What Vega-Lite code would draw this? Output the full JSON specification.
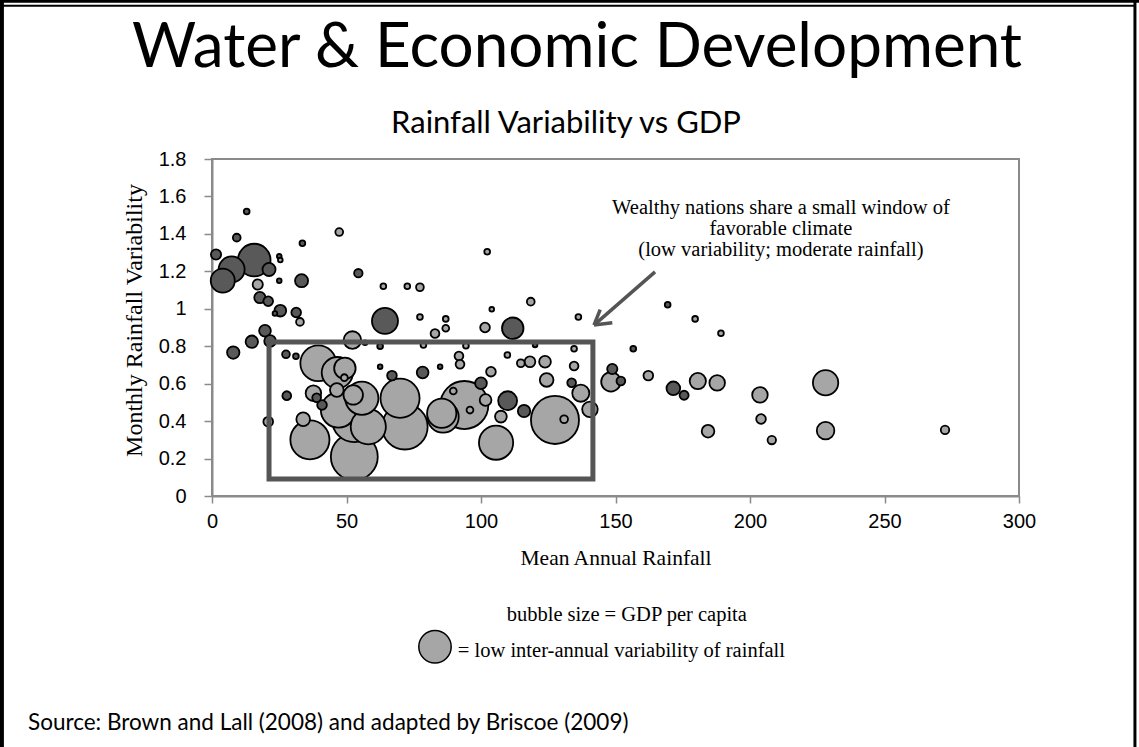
{
  "$schema": "https://vega.github.io/schema/vega-lite/v6.json",
  "width": 807,
  "height": 337,
  "autosize": {"type": "none"},
  "padding": {"left": 212, "top": 159, "right": 120, "bottom": 251},
  "background": "white",
  "config": {
    "view": {"stroke": "#8a8a8a", "strokeWidth": 2},
    "axis": {
      "grid": false,
      "domainColor": "#8a8a8a",
      "domainWidth": 2,
      "tickColor": "#8a8a8a",
      "tickWidth": 1.5,
      "labelFont": "Liberation Sans",
      "labelFontSize": 20,
      "labelColor": "#000000",
      "labelOverlap": false,
      "labelFlush": false,
      "titleFont": "Liberation Serif",
      "titleFontWeight": "normal",
      "titleColor": "#000000"
    }
  },
  "layer": [
    {
      "data": {
        "values": [
          {"rainfall": 12.9, "variability": 1.52, "gdp": 0.6, "g": "high"},
          {"rainfall": 9.2, "variability": 1.38, "gdp": 1.1, "g": "high"},
          {"rainfall": 47.3, "variability": 1.41, "gdp": 1.1, "g": "low"},
          {"rainfall": 1.5, "variability": 1.29, "gdp": 1.9, "g": "high"},
          {"rainfall": 33.6, "variability": 1.35, "gdp": 0.6, "g": "high"},
          {"rainfall": 15.7, "variability": 1.26, "gdp": 19.4, "g": "high"},
          {"rainfall": 7.3, "variability": 1.21, "gdp": 12.3, "g": "high"},
          {"rainfall": 4.0, "variability": 1.15, "gdp": 10.5, "g": "high"},
          {"rainfall": 21.2, "variability": 1.21, "gdp": 3.1, "g": "high"},
          {"rainfall": 25.0, "variability": 1.28, "gdp": 0.4, "g": "high"},
          {"rainfall": 25.4, "variability": 1.26, "gdp": 0.4, "g": "low"},
          {"rainfall": 25.0, "variability": 1.15, "gdp": 0.4, "g": "high"},
          {"rainfall": 33.3, "variability": 1.15, "gdp": 3.1, "g": "high"},
          {"rainfall": 17.0, "variability": 1.13, "gdp": 1.9, "g": "low"},
          {"rainfall": 54.4, "variability": 1.19, "gdp": 1.3, "g": "high"},
          {"rainfall": 63.7, "variability": 1.12, "gdp": 0.6, "g": "low"},
          {"rainfall": 72.6, "variability": 1.12, "gdp": 0.6, "g": "low"},
          {"rainfall": 77.3, "variability": 1.115, "gdp": 1.1, "g": "low"},
          {"rainfall": 17.8, "variability": 1.06, "gdp": 2.3, "g": "high"},
          {"rainfall": 20.9, "variability": 1.04, "gdp": 1.7, "g": "high"},
          {"rainfall": 25.4, "variability": 0.99, "gdp": 2.5, "g": "high"},
          {"rainfall": 23.4, "variability": 0.975, "gdp": 0.4, "g": "high"},
          {"rainfall": 31.3, "variability": 0.98, "gdp": 1.7, "g": "high"},
          {"rainfall": 32.7, "variability": 0.93, "gdp": 1.1, "g": "low"},
          {"rainfall": 64.3, "variability": 0.935, "gdp": 12.3, "g": "high"},
          {"rainfall": 19.7, "variability": 0.883, "gdp": 2.5, "g": "high"},
          {"rainfall": 14.8, "variability": 0.824, "gdp": 2.8, "g": "high"},
          {"rainfall": 21.6, "variability": 0.828, "gdp": 2.5, "g": "high"},
          {"rainfall": 7.9, "variability": 0.766, "gdp": 2.8, "g": "high"},
          {"rainfall": 52.2, "variability": 0.833, "gdp": 5.6, "g": "low"},
          {"rainfall": 56.9, "variability": 0.819, "gdp": 0.4, "g": "low"},
          {"rainfall": 62.5, "variability": 0.8, "gdp": 0.6, "g": "high"},
          {"rainfall": 27.5, "variability": 0.757, "gdp": 1.1, "g": "high"},
          {"rainfall": 31.2, "variability": 0.746, "gdp": 0.6, "g": "high"},
          {"rainfall": 39.5, "variability": 0.709, "gdp": 23.3, "g": "low"},
          {"rainfall": 49.4, "variability": 0.682, "gdp": 8.4, "g": "low"},
          {"rainfall": 46.6, "variability": 0.659, "gdp": 17.8, "g": "low"},
          {"rainfall": 49.2, "variability": 0.632, "gdp": 0.85, "g": "low"},
          {"rainfall": 62.5, "variability": 0.69, "gdp": 0.4, "g": "high"},
          {"rainfall": 66.9, "variability": 0.643, "gdp": 1.7, "g": "high"},
          {"rainfall": 78.3, "variability": 0.66, "gdp": 2.5, "g": "high"},
          {"rainfall": 27.8, "variability": 0.536, "gdp": 1.4, "g": "high"},
          {"rainfall": 37.7, "variability": 0.549, "gdp": 4.4, "g": "low"},
          {"rainfall": 38.9, "variability": 0.525, "gdp": 1.4, "g": "high"},
          {"rainfall": 40.9, "variability": 0.486, "gdp": 1.7, "g": "high"},
          {"rainfall": 46.4, "variability": 0.566, "gdp": 3.4, "g": "low"},
          {"rainfall": 52.5, "variability": 0.54, "gdp": 6.9, "g": "low"},
          {"rainfall": 55.7, "variability": 0.522, "gdp": 20, "g": "low"},
          {"rainfall": 69.9, "variability": 0.522, "gdp": 27.8, "g": "low"},
          {"rainfall": 47.0, "variability": 0.459, "gdp": 22.5, "g": "low"},
          {"rainfall": 58.1, "variability": 0.37, "gdp": 22.5, "g": "low"},
          {"rainfall": 33.9, "variability": 0.41, "gdp": 3.4, "g": "low"},
          {"rainfall": 36.4, "variability": 0.3, "gdp": 27.8, "g": "low"},
          {"rainfall": 52.9, "variability": 0.406, "gdp": 35.8, "g": "low"},
          {"rainfall": 52.9, "variability": 0.21, "gdp": 40, "g": "low"},
          {"rainfall": 71.7, "variability": 0.37, "gdp": 37.7, "g": "low"},
          {"rainfall": 20.9, "variability": 0.397, "gdp": 1.7, "g": "low"},
          {"rainfall": 82.9, "variability": 0.868, "gdp": 1.4, "g": "low"},
          {"rainfall": 84.8, "variability": 0.69, "gdp": 0.4, "g": "high"},
          {"rainfall": 91.8, "variability": 0.748, "gdp": 1.4, "g": "low"},
          {"rainfall": 92.2, "variability": 0.704, "gdp": 1.4, "g": "low"},
          {"rainfall": 103.7, "variability": 0.664, "gdp": 1.7, "g": "low"},
          {"rainfall": 109.8, "variability": 0.753, "gdp": 0.6, "g": "low"},
          {"rainfall": 114.8, "variability": 0.709, "gdp": 1.1, "g": "low"},
          {"rainfall": 118.2, "variability": 0.717, "gdp": 2.1, "g": "low"},
          {"rainfall": 123.8, "variability": 0.717, "gdp": 2.5, "g": "low"},
          {"rainfall": 124.4, "variability": 0.62, "gdp": 3.4, "g": "low"},
          {"rainfall": 134.6, "variability": 0.694, "gdp": 1.4, "g": "low"},
          {"rainfall": 134.6, "variability": 0.787, "gdp": 0.6, "g": "low"},
          {"rainfall": 133.7, "variability": 0.605, "gdp": 1.4, "g": "high"},
          {"rainfall": 137.1, "variability": 0.549, "gdp": 5.3, "g": "low"},
          {"rainfall": 140.5, "variability": 0.463, "gdp": 4.4, "g": "low"},
          {"rainfall": 127.5, "variability": 0.406, "gdp": 42, "g": "low"},
          {"rainfall": 130.9, "variability": 0.41, "gdp": 1.1, "g": "low"},
          {"rainfall": 109.9, "variability": 0.509, "gdp": 6.5, "g": "high"},
          {"rainfall": 116.0, "variability": 0.454, "gdp": 2.8, "g": "high"},
          {"rainfall": 107.4, "variability": 0.424, "gdp": 2.5, "g": "low"},
          {"rainfall": 105.6, "variability": 0.285, "gdp": 21.3, "g": "low"},
          {"rainfall": 100.0, "variability": 0.602, "gdp": 2.5, "g": "high"},
          {"rainfall": 93.8, "variability": 0.486, "gdp": 42, "g": "low"},
          {"rainfall": 89.7, "variability": 0.561, "gdp": 0.85, "g": "low"},
          {"rainfall": 95.9, "variability": 0.459, "gdp": 0.85, "g": "low"},
          {"rainfall": 101.7, "variability": 0.513, "gdp": 2.5, "g": "low"},
          {"rainfall": 85.4, "variability": 0.442, "gdp": 15.6, "g": "low"},
          {"rainfall": 85.9, "variability": 0.422, "gdp": 17.8, "g": "low"},
          {"rainfall": 77.3, "variability": 0.956, "gdp": 0.6, "g": "low"},
          {"rainfall": 86.9, "variability": 0.946, "gdp": 0.6, "g": "low"},
          {"rainfall": 86.9, "variability": 0.896, "gdp": 0.85, "g": "low"},
          {"rainfall": 104.0, "variability": 0.997, "gdp": 0.4, "g": "low"},
          {"rainfall": 101.5, "variability": 0.9, "gdp": 1.7, "g": "low"},
          {"rainfall": 118.5, "variability": 1.038, "gdp": 1.1, "g": "low"},
          {"rainfall": 136.2, "variability": 0.956, "gdp": 0.6, "g": "low"},
          {"rainfall": 78.6, "variability": 0.807, "gdp": 0.6, "g": "low"},
          {"rainfall": 94.4, "variability": 0.803, "gdp": 0.6, "g": "low"},
          {"rainfall": 111.8, "variability": 0.896, "gdp": 8.4, "g": "high"},
          {"rainfall": 102.3, "variability": 1.305, "gdp": 0.6, "g": "low"},
          {"rainfall": 148.8, "variability": 0.678, "gdp": 1.9, "g": "high"},
          {"rainfall": 148.3, "variability": 0.61, "gdp": 6.9, "g": "low"},
          {"rainfall": 152.0, "variability": 0.614, "gdp": 1.4, "g": "high"},
          {"rainfall": 169.4, "variability": 1.022, "gdp": 0.6, "g": "high"},
          {"rainfall": 179.6, "variability": 0.946, "gdp": 0.6, "g": "low"},
          {"rainfall": 189.2, "variability": 0.869, "gdp": 0.6, "g": "low"},
          {"rainfall": 156.6, "variability": 0.787, "gdp": 0.6, "g": "high"},
          {"rainfall": 162.2, "variability": 0.643, "gdp": 1.7, "g": "low"},
          {"rainfall": 171.5, "variability": 0.575, "gdp": 3.4, "g": "high"},
          {"rainfall": 175.5, "variability": 0.538, "gdp": 1.5, "g": "high"},
          {"rainfall": 180.6, "variability": 0.614, "gdp": 4.8, "g": "low"},
          {"rainfall": 187.8, "variability": 0.604, "gdp": 4.4, "g": "low"},
          {"rainfall": 203.7, "variability": 0.54, "gdp": 4.4, "g": "low"},
          {"rainfall": 204.1, "variability": 0.411, "gdp": 1.7, "g": "low"},
          {"rainfall": 184.4, "variability": 0.346, "gdp": 2.9, "g": "low"},
          {"rainfall": 208.1, "variability": 0.299, "gdp": 1.3, "g": "low"},
          {"rainfall": 228.1, "variability": 0.605, "gdp": 11.7, "g": "low"},
          {"rainfall": 228.1, "variability": 0.349, "gdp": 5.6, "g": "low"},
          {"rainfall": 272.5, "variability": 0.353, "gdp": 1.3, "g": "low"},
          {"rainfall": 120.1, "variability": 0.807, "gdp": 0.4, "g": "high"}
        ]
      },
      "mark": {"type": "point", "shape": "circle", "filled": true, "opacity": 1, "stroke": "#000000", "strokeWidth": 1.8},
      "encoding": {
        "x": {
          "field": "rainfall", "type": "quantitative",
          "scale": {"domain": [0, 300], "nice": false, "zero": false},
          "axis": {"title": "Mean Annual Rainfall", "values": [0, 50, 100, 150, 200, 250, 300], "tickCount": 7, "labelOverlap": false, "tickSize": 7, "labelPadding": 8, "titlePadding": 16, "titleFontSize": 21.5}
        },
        "y": {
          "field": "variability", "type": "quantitative",
          "scale": {"domain": [0, 1.8], "nice": false, "zero": false},
          "axis": {"title": "Monthly Rainfall Variability", "values": [0, 0.2, 0.4, 0.6, 0.8, 1, 1.2, 1.4, 1.6, 1.8], "tickCount": 10, "format": "~g", "labelOverlap": false, "labelBound": false, "tickSize": 8, "labelPadding": 18, "titlePadding": 12, "titleFontSize": 24, "titleY": 161}
        },
        "size": {"field": "gdp", "type": "quantitative", "scale": {"domain": [0, 40], "range": [0, 2200]}, "legend": null},
        "color": {"field": "g", "type": "nominal", "scale": {"domain": ["low", "high"], "range": ["#a6a6a6", "#595959"]}, "legend": null},
        "order": {"field": "gdp", "type": "quantitative", "sort": "descending"}
      }
    },
    {
      "data": {"values": [{}]},
      "mark": {"type": "rect", "fill": null, "fillOpacity": 0, "stroke": "#555555", "strokeWidth": 5},
      "encoding": {"x": {"datum": 21.2}, "x2": {"datum": 141.6}, "y": {"datum": 0.823}, "y2": {"datum": 0.091}}
    },
    {
      "data": {"values": [{}]},
      "mark": {"type": "rule", "stroke": "#555555", "strokeWidth": 3.5},
      "encoding": {"x": {"datum": 164.7}, "y": {"datum": 1.197}, "x2": {"datum": 142.2}, "y2": {"datum": 0.915}}
    },
    {
      "data": {"values": [{}]},
      "mark": {"type": "rule", "stroke": "#555555", "strokeWidth": 3.5},
      "encoding": {"x": {"datum": 142.0}, "y": {"datum": 0.913}, "x2": {"datum": 144.3}, "y2": {"datum": 0.995}}
    },
    {
      "data": {"values": [{}]},
      "mark": {"type": "rule", "stroke": "#555555", "strokeWidth": 3.5},
      "encoding": {"x": {"datum": 142.0}, "y": {"datum": 0.913}, "x2": {"datum": 148.8}, "y2": {"datum": 0.925}}
    },
    {
      "data": {"values": [{}]},
      "mark": {"type": "text", "font": "Liberation Serif", "fontSize": 20.5, "align": "center", "baseline": "middle", "lineHeight": 21, "color": "#000000"},
      "encoding": {
        "x": {"datum": 211.5}, "y": {"datum": 1.538},
        "text": {"value": ["Wealthy nations share a small window of", "favorable climate", "(low variability; moderate rainfall)"]}
      }
    },
    {
      "data": {"values": [{}]},
      "mark": {"type": "text", "font": "Lato", "fontSize": 62, "align": "center", "baseline": "alphabetic", "color": "#000000"},
      "encoding": {"x": {"datum": 135.7}, "y": {"datum": 2.292}, "text": {"value": "Water & Economic Development"}}
    },
    {
      "data": {"values": [{}]},
      "mark": {"type": "text", "font": "Lato", "fontSize": 31, "align": "center", "baseline": "alphabetic", "color": "#000000"},
      "encoding": {"x": {"datum": 131.6}, "y": {"datum": 1.939}, "text": {"value": "Rainfall Variability vs GDP"}}
    },
    {
      "data": {"values": [{}]},
      "mark": {"type": "text", "font": "Liberation Serif", "fontSize": 20.5, "align": "center", "baseline": "middle", "color": "#000000"},
      "encoding": {"x": {"datum": 154.2}, "y": {"datum": -0.636}, "text": {"value": "bubble size = GDP per capita"}}
    },
    {
      "data": {"values": [{}]},
      "mark": {"type": "point", "shape": "circle", "filled": true, "fill": "#a6a6a6", "opacity": 1, "stroke": "#000000", "strokeWidth": 1.5, "size": 1050},
      "encoding": {"x": {"datum": 82.9}, "y": {"datum": -0.805}}
    },
    {
      "data": {"values": [{}]},
      "mark": {"type": "text", "font": "Liberation Serif", "fontSize": 20.5, "align": "left", "baseline": "middle", "color": "#000000"},
      "encoding": {"x": {"datum": 91.4}, "y": {"datum": -0.83}, "text": {"value": "=  low inter-annual variability of rainfall"}}
    },
    {
      "data": {"values": [{}]},
      "mark": {"type": "text", "font": "Lato", "fontSize": 22.5, "align": "left", "baseline": "middle", "color": "#000000"},
      "encoding": {"x": {"datum": -68.4}, "y": {"datum": -1.213}, "text": {"value": "Source: Brown and Lall (2008) and adapted by Briscoe (2009)"}}
    },
    {
      "data": {"values": [{}]},
      "mark": {"type": "rule", "stroke": "#000000", "strokeWidth": 4},
      "encoding": {"x": {"datum": -78.1}, "y": {"datum": 2.65}, "y2": {"datum": -1.35}}
    },
    {
      "data": {"values": [{}]},
      "mark": {"type": "rule", "stroke": "#000000", "strokeWidth": 3},
      "encoding": {"x": {"datum": 343.1}, "y": {"datum": 2.65}, "y2": {"datum": -1.35}}
    },
    {
      "data": {"values": [{}]},
      "mark": {"type": "rule", "stroke": "#000000", "strokeWidth": 3},
      "encoding": {"x": {"datum": -79}, "x2": {"datum": 345}, "y": {"datum": 2.642}}
    },
    {
      "data": {"values": [{}]},
      "mark": {"type": "rule", "stroke": "#000000", "strokeWidth": 2},
      "encoding": {"x": {"datum": -78.1}, "x2": {"datum": 343.1}, "y": {"datum": 2.618}}
    }
  ]
}
